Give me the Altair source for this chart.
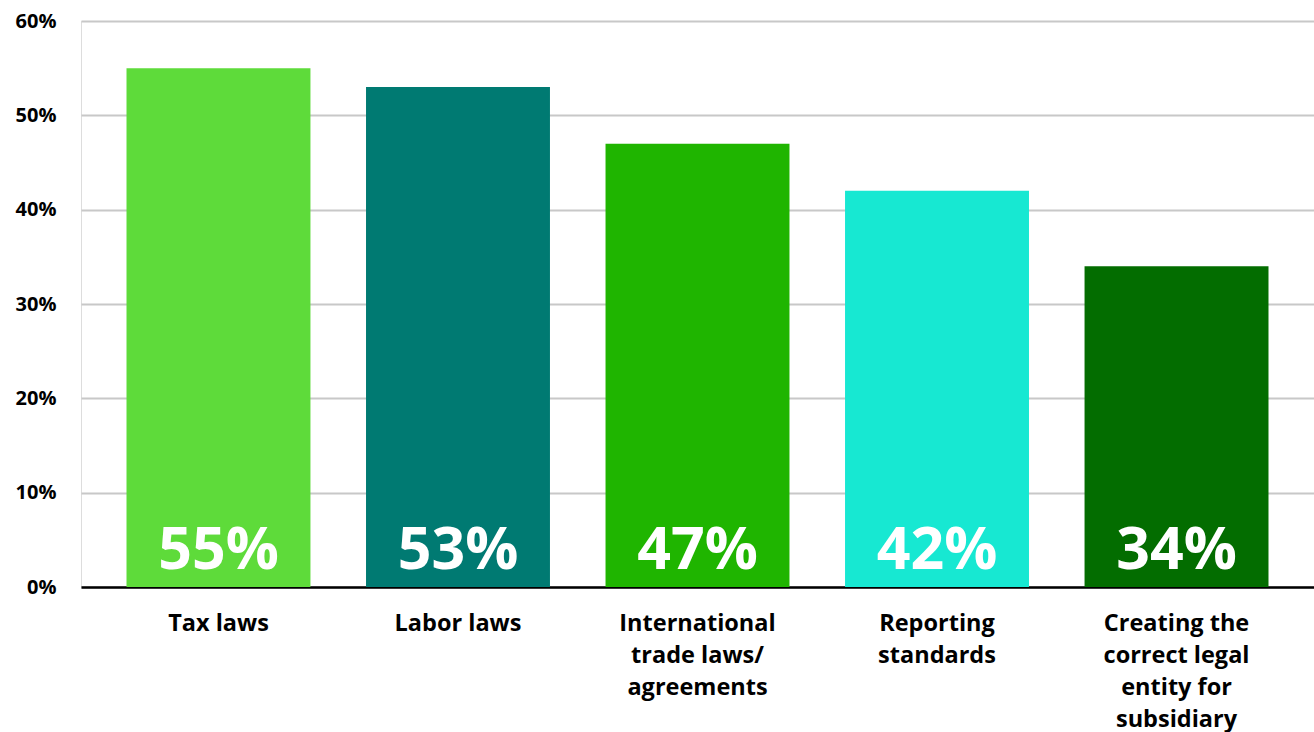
import altair as alt
import pandas as pd

categories = ["Tax laws", "Labor laws", "International trade laws/ agreements",
              "Reporting standards", "Creating the correct legal entity for subsidiary"]
label_lines = [["Tax laws"], ["Labor laws"], ["International", "trade laws/", "agreements"],
               ["Reporting", "standards"], ["Creating the", "correct legal", "entity for", "subsidiary"]]
values = [55, 53, 47, 42, 34]
colors = ["#5EDB3A", "#007A72", "#1FB500", "#17E8D2", "#036D00"]

df = pd.DataFrame({"cat": categories, "value": values, "label": [f"{v}%" for v in values]})

parts = []
for c, l in zip(categories, label_lines):
    parts.append(f"datum.value == '{c}' ? split('{'|'.join(l)}', '|')")
label_expr = " : ".join(parts) + " : datum.label"

FONT = "Open Sans"

x = alt.X("cat:N", sort=categories, title=None,
          scale=alt.Scale(paddingInner=0.232, paddingOuter=0.19),
          axis=alt.Axis(labelAngle=0, labelExpr=label_expr, labelFont=FONT, labelFontSize=23.5,
                        labelFontWeight="bold", labelColor="#000000", labelLineHeight=32,
                        labelPadding=24, ticks=False, domain=True, domainColor="#000000",
                        domainWidth=2.5, grid=False, labelLimit=300))

bars = alt.Chart(df).mark_bar().encode(
    x=x,
    y=alt.Y("value:Q", title=None,
            scale=alt.Scale(domain=[0, 60], nice=False),
            axis=alt.Axis(values=[0, 10, 20, 30, 40, 50, 60], labelExpr="datum.value + '%'",
                          labelFont=FONT, labelFontSize=20, labelFontWeight="bold",
                          labelColor="#000000", labelPadding=25, ticks=False, domain=False,
                          grid=True, gridColor="#c8c8c8", gridWidth=2)),
    color=alt.Color("cat:N", sort=categories,
                    scale=alt.Scale(domain=categories, range=colors), legend=None),
)

text = alt.Chart(df).mark_text(font=FONT, fontSize=59, fontWeight="bold", color="#ffffff",
                               baseline="alphabetic", dy=-18).encode(
    x=alt.X("cat:N", sort=categories),
    y=alt.datum(0),
    text="label:N",
)

chart = alt.layer(bars, text).properties(
    width=1233, height=566,
    autosize=alt.AutoSizeParams(type="none"),
    padding={"left": 81, "top": 21, "right": 0, "bottom": 145},
).configure_view(stroke=None).configure(background="#ffffff")

chart.save("out.html", embed_options={"renderer": "svg", "actions": False})
